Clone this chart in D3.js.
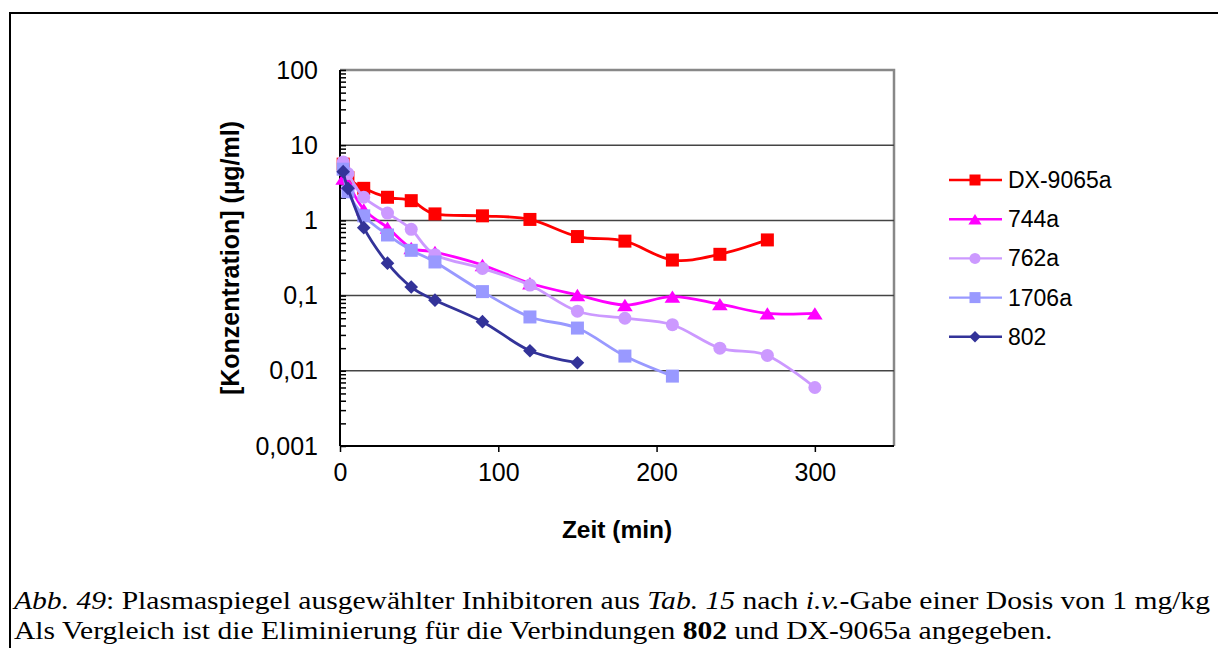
<!DOCTYPE html>
<html>
<head>
<meta charset="utf-8">
<script src="https://cdn.jsdelivr.net/npm/d3@7"></script>
<style>
  html, body { margin: 0; padding: 0; background: #fff; }
  svg { display: block; }
</style>
</head>
<body>
<svg id="chart" width="1218" height="648"></svg>
<script>
// Sampling times (min) after i.v. dose
const times = [2, 5, 15, 30, 45, 60, 90, 120, 150, 180, 210, 240, 270, 300];

// Plasma concentrations (µg/ml); null = not measured
const dx9065a = [5.6, 3.7, 2.67, 2.03, 1.83, 1.22, 1.15, 1.03, 0.61, 0.53, 0.297, 0.354, 0.55, null];
const c744a   = [3.6, 3.1, 1.4, 0.8, 0.43, 0.38, 0.255, 0.146, 0.102, 0.075, 0.097, 0.077, 0.058, 0.058];
const c762a   = [6.0, 4.2, 2.03, 1.25, 0.76, 0.35, 0.23, 0.138, 0.062, 0.050, 0.041, 0.020, 0.016, 0.006];
const c1706a  = [4.8, 2.4, 1.15, 0.64, 0.40, 0.28, 0.113, 0.052, 0.037, 0.0157, 0.0085, null, null, null];
const c802    = [4.45, 2.67, 0.80, 0.27, 0.13, 0.087, 0.045, 0.0185, 0.0128, null, null, null, null, null];

const seriesNames = ["DX-9065a", "744a", "762a", "1706a", "802"];
const seriesValues = [dx9065a, c744a, c762a, c1706a, c802];
const seriesColors = ["#FF0000", "#FF00FF", "#CC99FF", "#9999FF", "#333399"];
const seriesMarkers = ["square", "triangle", "circle", "square", "diamond"];

const xTicks = [0, 100, 200, 300];
const yTicks = [0.001, 0.01, 0.1, 1, 10, 100];
const yTickLabels = ["0,001", "0,01", "0,1", "1", "10", "100"];

const xTitle = "Zeit (min)";
const yTitle = "[Konzentration] (µg/ml)";

const FONT = "'Liberation Sans', Arial, Helvetica, sans-serif";
const SERIF = "'Liberation Serif', 'Times New Roman', Times, serif";

const svg = d3.select("#chart");

// outer frame of the figure
svg.append("rect")
  .attr("x", 10).attr("y", 13).attr("width", 1240).attr("height", 700)
  .attr("fill", "none").attr("stroke", "#000").attr("stroke-width", 2);

const plot = { left: 340, right: 894, top: 70, bottom: 446 };

const x = d3.scaleLinear().domain([0, 350]).range([plot.left, plot.right]);
const y = d3.scaleLog().domain([0.001, 100]).range([plot.bottom, plot.top]);

// plot-area border (top/right) in gray
svg.append("path")
  .attr("d", `M${plot.left},${plot.top}H${plot.right}V${plot.bottom}`)
  .attr("fill", "none").attr("stroke", "#888").attr("stroke-width", 2.5);

// horizontal gridlines at each decade
svg.append("g")
  .selectAll("line")
  .data(yTicks.filter(v => v > 0.001 && v < 100))
  .join("line")
  .attr("x1", plot.left).attr("x2", plot.right)
  .attr("y1", d => y(d)).attr("y2", d => y(d))
  .attr("stroke", "#444").attr("stroke-width", 1.5);

// y axis: major ticks cross the axis, minor ticks at 2..9 of each decade
const minorTicks = [];
for (let e = -3; e < 2; e++) {
  for (let m = 2; m <= 9; m++) minorTicks.push(m * Math.pow(10, e));
}
const yAxisMajor = d3.axisLeft(y).tickValues(yTicks)
  .tickFormat((d, i) => yTickLabels[i]).tickSizeInner(9).tickSizeOuter(0).tickPadding(13);
const gy = svg.append("g").attr("transform", `translate(${plot.left},0)`).call(yAxisMajor);
gy.select(".domain").remove();
gy.selectAll(".tick line").attr("x2", 6).attr("stroke", "#000").attr("stroke-width", 1.5);
gy.selectAll(".tick text")
  .attr("font-family", FONT).attr("font-size", 25).attr("fill", "#000");

const yAxisMinor = d3.axisLeft(y).tickValues(minorTicks).tickFormat("").tickSizeInner(6).tickSizeOuter(0);
const gyMinor = svg.append("g").attr("transform", `translate(${plot.left},0)`).call(yAxisMinor);
gyMinor.select(".domain").remove();
gyMinor.selectAll(".tick line").attr("x2", 6).attr("stroke", "#000").attr("stroke-width", 1.5);

// x axis
const xAxis = d3.axisBottom(x).tickValues(xTicks).tickFormat(d3.format("d"))
  .tickSizeInner(6).tickSizeOuter(0).tickPadding(11);
const gx = svg.append("g").attr("transform", `translate(0,${plot.bottom})`).call(xAxis);
gx.select(".domain").remove();
gx.selectAll(".tick line").attr("stroke", "#000").attr("stroke-width", 1.5);
gx.selectAll(".tick text")
  .attr("font-family", FONT).attr("font-size", 25).attr("fill", "#000");

// axis lines in black
svg.append("line")
  .attr("x1", plot.left).attr("x2", plot.left)
  .attr("y1", plot.top).attr("y2", plot.bottom)
  .attr("stroke", "#000").attr("stroke-width", 2);
svg.append("line")
  .attr("x1", plot.left).attr("x2", plot.right)
  .attr("y1", plot.bottom).attr("y2", plot.bottom)
  .attr("stroke", "#000").attr("stroke-width", 2);

// axis titles
svg.append("text")
  .attr("x", (plot.left + plot.right) / 2).attr("y", 538)
  .attr("text-anchor", "middle")
  .attr("font-family", FONT).attr("font-size", 24.5).attr("font-weight", "bold")
  .text(xTitle);

svg.append("text")
  .attr("transform", `translate(239,${(plot.top + plot.bottom) / 2}) rotate(-90)`)
  .attr("text-anchor", "middle")
  .attr("font-family", FONT).attr("font-size", 25).attr("font-weight", "bold")
  .text(yTitle);

// marker shapes
function markerPath(type, s) {
  const h = s / 2;
  switch (type) {
    case "square":
      return `M${-h},${-h}H${h}V${h}H${-h}Z`;
    case "triangle":
      return `M0,${-h * 0.95}L${h * 1.2},${h * 0.95}L${-h * 1.2},${h * 0.95}Z`;
    case "diamond":
      return `M0,${-h * 1.05}L${h * 1.05},0L0,${h * 1.05}L${-h * 1.05},0Z`;
    case "circle":
    default:
      return d3.symbol(d3.symbolCircle, Math.PI * h * h)();
  }
}

const line = d3.line()
  .defined(d => d.v != null)
  .x(d => x(d.t))
  .y(d => y(d.v))
  .curve(d3.curveCatmullRom.alpha(0));

seriesNames.forEach((name, i) => {
  const pts = times.map((t, j) => ({ t, v: seriesValues[i][j] })).filter(d => d.v != null);
  const g = svg.append("g").attr("class", "series");
  g.append("path")
    .datum(pts)
    .attr("d", line)
    .attr("fill", "none")
    .attr("stroke", seriesColors[i])
    .attr("stroke-width", 2.8)
    .attr("stroke-linejoin", "round");
  g.selectAll("path.marker")
    .data(pts)
    .join("path")
    .attr("class", "marker")
    .attr("transform", d => `translate(${x(d.t)},${y(d.v)})`)
    .attr("d", markerPath(seriesMarkers[i], 13))
    .attr("fill", seriesColors[i]);
});

// legend
const legend = svg.append("g").attr("transform", "translate(949,180)");
seriesNames.forEach((name, i) => {
  const row = legend.append("g").attr("transform", `translate(0,${i * 39.2})`);
  row.append("line")
    .attr("x1", 0).attr("x2", 53).attr("y1", 0).attr("y2", 0)
    .attr("stroke", seriesColors[i]).attr("stroke-width", 2.4);
  row.append("path")
    .attr("transform", "translate(26,0)")
    .attr("d", markerPath(seriesMarkers[i], 11))
    .attr("fill", seriesColors[i]);
  row.append("text")
    .attr("x", 59).attr("y", 8)
    .attr("font-family", FONT).attr("font-size", 23)
    .text(name);
});

// caption below the chart
const caption = svg.append("g")
  .attr("transform", "translate(14,0) scale(1.138,1)")
  .attr("font-family", SERIF).attr("font-size", 26).attr("fill", "#000");
const l1 = caption.append("text").attr("x", 0).attr("y", 609);
[["Abb. 49", "italic", "normal"], [": Plasmaspiegel ausgewählter Inhibitoren aus ", "normal", "normal"],
 ["Tab. 15", "italic", "normal"], [" nach ", "normal", "normal"], ["i.v.", "italic", "normal"],
 ["-Gabe einer Dosis von 1 mg/kg", "normal", "normal"]]
  .forEach(([t, st, w]) => l1.append("tspan").attr("font-style", st).attr("font-weight", w).text(t));
const l2 = caption.append("text").attr("x", 0).attr("y", 639);
[["Als Vergleich ist die Eliminierung für die Verbindungen ", "normal", "normal"], ["802", "normal", "bold"],
 [" und DX-9065a angegeben.", "normal", "normal"]]
  .forEach(([t, st, w]) => l2.append("tspan").attr("font-style", st).attr("font-weight", w).text(t));
</script>
</body>
</html>
